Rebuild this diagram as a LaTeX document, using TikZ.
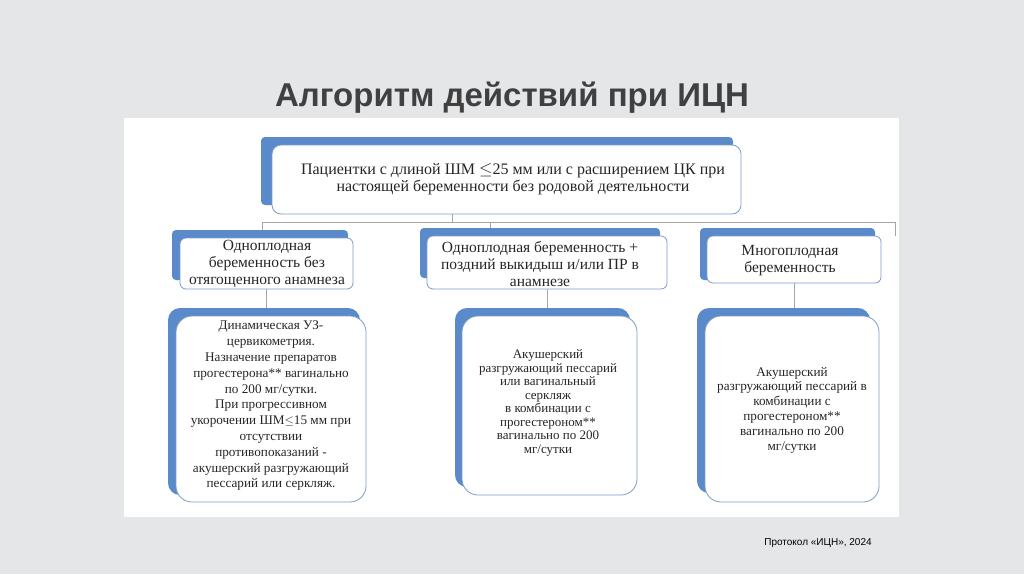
\documentclass[tikz,border=0pt]{standalone}
\usepackage{fontspec}
\setmainfont{Liberation Serif}
\newfontfamily\titlefont{Liberation Sans}
\begin{document}
\begin{tikzpicture}[x=1pt,y=-1pt,
  back/.style={fill=backblue,rounded corners=4pt},
  front/.style={draw=frontblue,line width=0.8pt,fill=white,rounded corners=9pt},
  lbl/.style={align=center,font=\fontsize{15.5}{17}\selectfont,text=black!85},
  sml/.style={align=center,font=\fontsize{13.2}{15.8}\selectfont,text=black!85},
  conn/.style={draw=gray!70,line width=0.6pt}]
\definecolor{backblue}{HTML}{5B8ACB}
\definecolor{frontblue}{HTML}{7C9CC8}
\fill[fill={rgb,255:red,228;green,230;blue,232}] (0,0) rectangle (1024,574);
\fill[white] (124,118) rectangle (899,517);
\node[font=\titlefont\bfseries\fontsize{33}{36}\selectfont,text={rgb,255:red,64;green,64;blue,64}] (title) at (512,98) {Алгоритм действий при ИЦН};
\node[font=\titlefont\fontsize{10}{11}\selectfont] (foot) at (818,543) {Протокол «ИЦН», 2024};
% connectors
\coordinate (tb) at (452,214); \coordinate (tj) at (452,222);
\coordinate (hl) at (262,222); \coordinate (hr) at (895,222);
\coordinate (l1) at (262,238); \coordinate (m1) at (490,236); \coordinate (r1) at (895,236);
\draw[conn] (tb) -- (tj) (hl) -- (hr) (hl) -- (l1) (tj-|m1) -- (m1) (hr) -- (r1);
\coordinate (la) at (266,289); \coordinate (lb) at (266,316);
\coordinate (ma) at (547,289); \coordinate (mb) at (547,316);
\coordinate (ra) at (794,283); \coordinate (rb) at (794,316);
\draw[conn] (la)--(lb) (ma)--(mb) (ra)--(rb);
% top
\fill[back] (261,137) rectangle (733,205);
\draw[front] (272,145) rectangle (741,214);
\node[lbl,font=\fontsize{16}{17}\selectfont] (top) at (513,179) {Пациентки с длиной ШМ $\leq$25 мм или с расширением ЦК при\\настоящей беременности без родовой деятельности};
% tier 2
\fill[back] (172,230) rectangle (348,280);
\draw[front,rounded corners=6pt] (180,238) rectangle (353,289);
\node[lbl] (t2a) at (267,264) {Одноплодная\\беременность без\\отягощенного анамнеза};
\fill[back] (420,228) rectangle (660,278);
\draw[front,rounded corners=6pt] (427,236) rectangle (667,289);
\node[lbl] (t2b) at (540,264) {Одноплодная беременность +\\поздний выкидыш и/или ПР в\\анамнезе};
\fill[back] (700,228) rectangle (875,280);
\draw[front,rounded corners=6pt] (707,236) rectangle (881,283);
\node[lbl] (t2c) at (790,261) {Многоплодная\\беременность};
% tier 3
\fill[back,rounded corners=12pt] (168,308) rectangle (360,495);
\draw[front,rounded corners=16pt] (176,316) rectangle (366,502);
\node[sml] (t3a) at (271,406) {Динамическая УЗ-\\цервикометрия.\\Назначение препаратов\\прогестерона** вагинально\\по 200 мг/сутки.\\При прогрессивном\\укорочении ШМ$\leq$15 мм при\\отсутствии\\противопоказаний -\\акушерский разгружающий\\пессарий или серкляж.};
\fill[back,rounded corners=12pt] (455,308) rectangle (630,487);
\draw[front,rounded corners=16pt] (462,316) rectangle (637,495);
\node[sml,font=\fontsize{13}{13.5}\selectfont] (t3b) at (548,403) {Акушерский\\разгружающий пессарий\\или вагинальный\\серкляж\\в комбинации с\\прогестероном**\\вагинально по 200\\мг/сутки};
\fill[back,rounded corners=12pt] (697,308) rectangle (870,493);
\draw[front,rounded corners=16pt] (705,316) rectangle (879,502);
\node[sml,font=\fontsize{13.2}{14.8}\selectfont] (t3c) at (792,410) {Акушерский\\разгружающий пессарий в\\комбинации с\\прогестероном**\\вагинально по 200\\мг/сутки};
\end{tikzpicture}
\end{document}
